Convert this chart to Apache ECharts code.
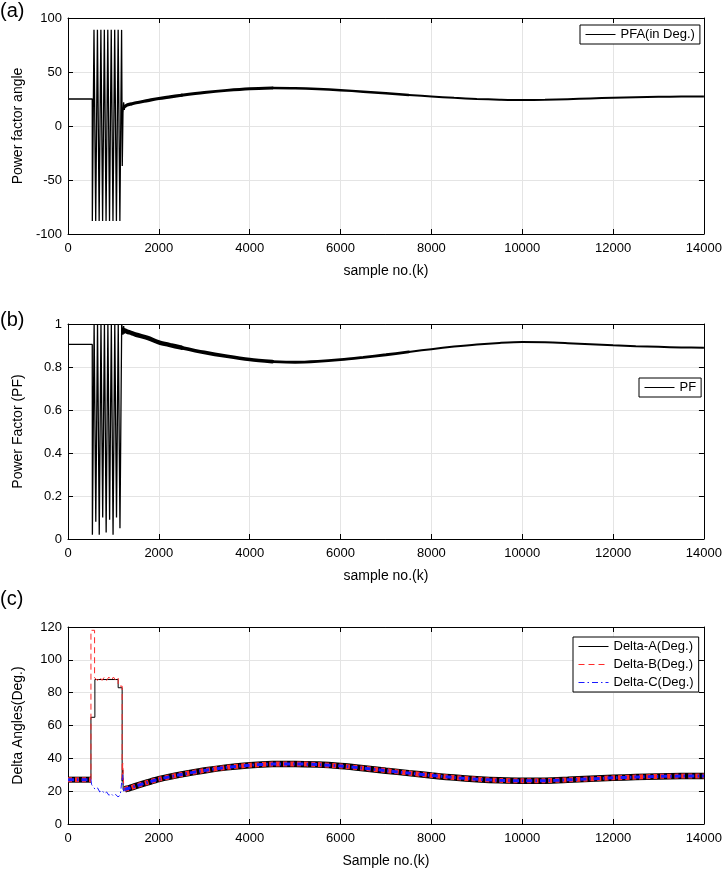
<!DOCTYPE html>
<html>
<head>
<meta charset="utf-8">
<script src="https://cdn.jsdelivr.net/npm/echarts@6.0.0/dist/echarts.min.js"></script>
<style>
    html, body { margin: 0; padding: 0; background: #fff; }
    #chart { width: 725px; height: 870px; }
</style>
</head>
<body>
<div id="chart"></div>
<script>
// sample no. (k) ticks
const sampleTicks = [0, 2000, 4000, 6000, 8000, 10000, 12000, 14000]

// (a) power factor angle: start + switching burst
const pfaHeadK = [0, 534, 536, 572, 610, 648, 686, 724, 762, 800, 838, 876, 914, 952, 990, 1028, 1066, 1104, 1142, 1180, 1195, 1210, 1225, 1240, 1250]
const pfaHeadV = [25, 25, -88, 89, -88, 89, -88, 89, -88, 89, -88, 89, -88, 89, -88, 89, -88, 89, -88, 89, -37, 12, 22, 15, 18]

// slow drift after the burst, in four pieces (ripple gets smaller with time)
const seg1K = [1250, 1300, 1400, 1500, 1750, 2000, 2250, 2500]
const seg2K = [2500, 3000, 3500, 4000, 4500]
const seg3K = [4500, 5000, 5500, 6000, 6500, 7000, 7500]
const seg4K = [7500, 8000, 8500, 9000, 9500, 10000, 10500, 11000, 11500, 12000, 12500, 13000, 13500, 14000]

const pfaSeg1 = [18, 19.5, 20.5, 21.5, 23.5, 25.5, 27, 28.5]
const pfaSeg2 = [28.5, 31, 33, 34.5, 35.2]
const pfaSeg3 = [35.2, 35, 34.3, 33.2, 31.8, 30.3, 28.8]
const pfaSeg4 = [28.8, 27.4, 26.1, 25.1, 24.4, 24, 24.2, 24.8, 25.5, 26.1, 26.6, 27, 27.2, 27.3]

// (b) power factor
const pfHeadK = [0, 534, 537, 575, 612, 650, 688, 726, 764, 802, 840, 878, 916, 954, 992, 1030, 1068, 1106, 1144, 1182, 1195, 1210, 1225, 1240, 1250]
const pfHeadV = [0.905, 0.905, 0.02, 1, 0.08, 1, 0.02, 1, 0.1, 1, 0.03, 1, 0.09, 1, 0.02, 1, 0.1, 1, 0.05, 1, 1, 0.95, 0.99, 0.955, 0.97]
const pfSeg1 = [0.97, 0.965, 0.958, 0.95, 0.935, 0.915, 0.902, 0.89]
const pfSeg2 = [0.89, 0.868, 0.85, 0.835, 0.825]
const pfSeg3 = [0.825, 0.822, 0.826, 0.834, 0.845, 0.857, 0.87]
const pfSeg4 = [0.87, 0.883, 0.895, 0.905, 0.912, 0.916, 0.915, 0.911, 0.906, 0.901, 0.897, 0.894, 0.891, 0.89]

// (c) delta angles
const deltaStartK = [0, 505]
const deltaStartV = [27, 27]
const deltaAHeadK = [505, 505, 592, 592, 1104, 1104, 1192, 1192, 1205, 1215, 1230, 1250]
const deltaAHeadV = [27, 65, 65, 88, 88, 83, 83, 26, 33, 21, 20, 21]
const deltaBHeadK = [505, 505, 585, 585, 650, 700, 750, 800, 850, 900, 950, 1000, 1050, 1104, 1104, 1192, 1192, 1205, 1215, 1230, 1250]
const deltaBHeadV = [27, 118, 118, 89, 87.5, 89.5, 87.5, 89.5, 87.5, 89.5, 87.5, 89.5, 87.5, 89, 84, 84, 26, 37, 36, 21, 21]
const deltaCHeadK = [505, 520, 560, 600, 650, 700, 750, 800, 850, 900, 950, 1000, 1050, 1100, 1150, 1185, 1192, 1205, 1215, 1230, 1250]
const deltaCHeadV = [27, 24, 22.5, 21, 22, 19.5, 20.5, 18.5, 19.5, 17.5, 18.5, 17, 18, 16.5, 17.5, 16.5, 28, 30, 22, 20, 21]
const deltaTailK = [1250, 1300, 1400, 1500, 1750, 2000, 2500, 3000, 3500, 4000, 4500, 5000, 5500, 6000, 6500, 7000, 7500, 8000, 8500, 9000, 9500, 10000, 10500, 11000, 11500, 12000, 12500, 13000, 13500, 14000]
const deltaTailV = [21, 21.5, 22.3, 23.2, 25.3, 27.3, 30.2, 32.6, 34.5, 35.8, 36.5, 36.6, 36.2, 35.3, 34, 32.5, 31, 29.6, 28.3, 27.3, 26.6, 26.3, 26.4, 26.9, 27.5, 28.1, 28.6, 29, 29.2, 29.3]

const font = 'Liberation Sans'
const pairs = (k, v) => k.map((x, i) => [x, v[i]])

const xNames = ['sample no.(k)', 'sample no.(k)', 'Sample no.(k)']
const yNames = ['Power factor angle', 'Power Factor (PF)', 'Delta Angles(Deg.)']
const yRanges = [
    { min: -100, max: 100, interval: 50 },
    { min: 0, max: 1, interval: 0.2 },
    { min: 0, max: 120, interval: 20 },
]

let xAxis = []
let yAxis = []
for (let i = 0; i < 3; i++) {
    // bottom x with labels, top x only for the box ticks
    xAxis.push({
        type: 'value', gridIndex: i, position: 'bottom',
        min: sampleTicks[0], max: sampleTicks[sampleTicks.length - 1], interval: 2000,
        name: xNames[i], nameLocation: 'middle', nameGap: 30,
        nameTextStyle: { fontSize: 14, color: '#000', fontFamily: font },
        axisLine: { show: true, onZero: false, lineStyle: { color: '#000' } },
        axisTick: { inside: true, length: 5, lineStyle: { color: '#000' } },
        axisLabel: { fontSize: 13, color: '#000', fontFamily: font, margin: 8, formatter: v => String(v) },
        splitLine: { show: true, lineStyle: { color: '#e4e4e4' } },
    })
    xAxis.push({
        type: 'value', gridIndex: i, position: 'top',
        min: 0, max: 14000, interval: 2000,
        axisLine: { show: true, onZero: false, lineStyle: { color: '#000' } },
        axisTick: { inside: true, length: 5, lineStyle: { color: '#000' } },
        axisLabel: { show: false },
        splitLine: { show: false },
    })
    yAxis.push({
        type: 'value', gridIndex: i, position: 'left',
        min: yRanges[i].min, max: yRanges[i].max, interval: yRanges[i].interval,
        name: yNames[i], nameLocation: 'middle', nameGap: 43,
        nameTextStyle: { fontSize: 14, color: '#000', fontFamily: font },
        axisLine: { show: true, onZero: false, lineStyle: { color: '#000' } },
        axisTick: { inside: true, length: 5, lineStyle: { color: '#000' } },
        axisLabel: { fontSize: 13, color: '#000', fontFamily: font, margin: 6 },
        splitLine: { show: true, lineStyle: { color: '#e4e4e4' } },
    })
    yAxis.push({
        type: 'value', gridIndex: i, position: 'right',
        min: yRanges[i].min, max: yRanges[i].max, interval: yRanges[i].interval,
        axisLine: { show: true, onZero: false, lineStyle: { color: '#000' } },
        axisTick: { inside: true, length: 5, lineStyle: { color: '#000' } },
        axisLabel: { show: false },
        splitLine: { show: false },
    })
}

function line(name, panel, data, color, width, type, smooth, cap) {
    return {
        type: 'line', name: name,
        xAxisIndex: panel * 2, yAxisIndex: panel * 2,
        data: data, symbol: 'none', smooth: smooth || false,
        lineStyle: { color: color, width: width, type: type || 'solid', cap: cap || 'butt' },
        itemStyle: { color: color },
        emphasis: { disabled: true },
    }
}

const red = '#ff2a2a'
const blue = '#1a1aff'
const dashB = [6, 4]
const dashC = [6, 3, 1.5, 3]

let series = [
    line('PFA(in Deg.)', 0, pairs(pfaHeadK, pfaHeadV), '#000', 1.3),
    line('pfa-1', 0, pairs(seg1K, pfaSeg1), '#000', 3.2, null, 0.3, 'round'),
    line('pfa-2', 0, pairs(seg2K, pfaSeg2), '#000', 2.9, null, 0.3, 'round'),
    line('pfa-3', 0, pairs(seg3K, pfaSeg3), '#000', 2.5, null, 0.3, 'round'),
    line('pfa-4', 0, pairs(seg4K, pfaSeg4), '#000', 2.0, null, 0.3),

    line('PF', 1, pairs(pfHeadK, pfHeadV), '#000', 1.3),
    line('pf-1', 1, pairs(seg1K, pfSeg1), '#000', 4.5, null, 0.3, 'round'),
    line('pf-2', 1, pairs(seg2K, pfSeg2), '#000', 3.6, null, 0.3, 'round'),
    line('pf-3', 1, pairs(seg3K, pfSeg3), '#000', 2.8, null, 0.3, 'round'),
    line('pf-4', 1, pairs(seg4K, pfSeg4), '#000', 2.0, null, 0.3),

    line('Delta-A(Deg.)', 2, pairs(deltaAHeadK, deltaAHeadV), '#000', 1),
    line('Delta-B(Deg.)', 2, pairs(deltaBHeadK, deltaBHeadV), red, 1, dashB),
    line('Delta-C(Deg.)', 2, pairs(deltaCHeadK, deltaCHeadV), blue, 1, dashC),
    line('a-start', 2, pairs(deltaStartK, deltaStartV), '#000', 6),
    line('b-start', 2, pairs(deltaStartK, deltaStartV), red, 5, [4, 3]),
    line('c-start', 2, pairs(deltaStartK, deltaStartV), blue, 3, dashC),
    line('a-tail', 2, pairs(deltaTailK, deltaTailV), '#000', 6.5, null, 0.3),
    line('b-tail', 2, pairs(deltaTailK, deltaTailV), red, 5, [4, 3], 0.3),
    line('c-tail', 2, pairs(deltaTailK, deltaTailV), blue, 3, dashC, 0.3),
]

const legendBase = {
    orient: 'vertical',
    backgroundColor: '#fff',
    borderColor: '#000',
    borderWidth: 1,
    borderRadius: 0,
    itemWidth: 30,
    itemHeight: 12,
    itemGap: 5,
    padding: [3, 5],
    itemStyle: { opacity: 0 },
    lineStyle: { width: 1 },
    textStyle: { fontSize: 13, color: '#000', fontFamily: font },
    selectedMode: false,
}

let option = {
    animation: false,
    backgroundColor: '#fff',
    grid: [
        { left: 68, top: 18, width: 638, height: 216 },
        { left: 68, top: 324, width: 638, height: 215 },
        { left: 68, top: 627, width: 638, height: 197 },
    ],
    xAxis: xAxis,
    yAxis: yAxis,
    legend: [
        Object.assign({}, legendBase, { data: ['PFA(in Deg.)'], left: 580, top: 25 }),
        Object.assign({}, legendBase, { data: ['PF'], left: 639, top: 378 }),
        Object.assign({}, legendBase, { data: ['Delta-A(Deg.)', 'Delta-B(Deg.)', 'Delta-C(Deg.)'], left: 573, top: 637 }),
    ],
    graphic: [
        { type: 'text', left: 0, top: 1, style: { text: '(a)', font: '20px "Liberation Sans"', fill: '#000' } },
        { type: 'text', left: 0, top: 310, style: { text: '(b)', font: '20px "Liberation Sans"', fill: '#000' } },
        { type: 'text', left: 0, top: 589, style: { text: '(c)', font: '20px "Liberation Sans"', fill: '#000' } },
    ],
    series: series,
}

let myChart = echarts.init(document.getElementById('chart'))
myChart.setOption(option, true)
</script>
</body>
</html>
